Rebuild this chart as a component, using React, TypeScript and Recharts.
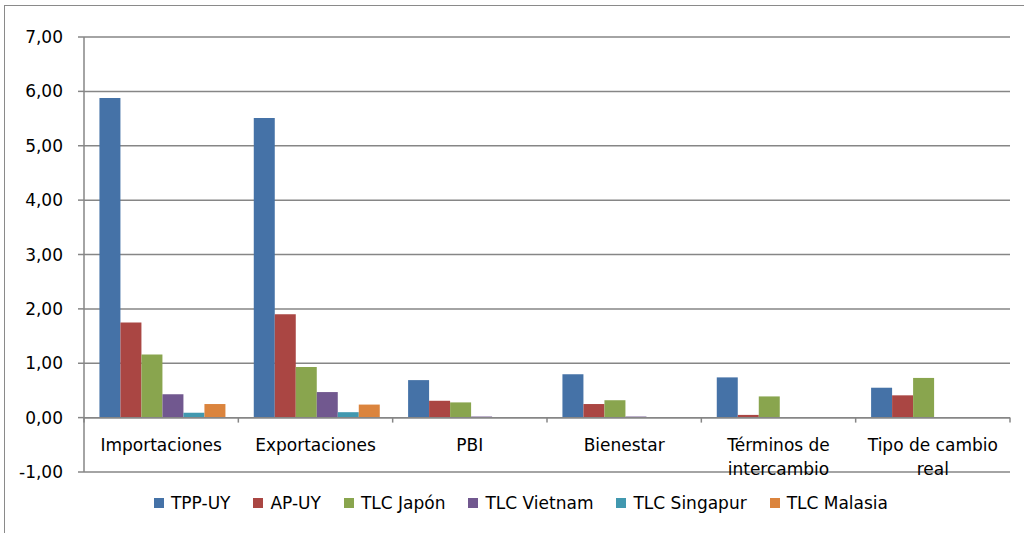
import React from "react";
import { BarChart, Bar, XAxis, YAxis, CartesianGrid, Legend, ReferenceLine } from "recharts";

const categories = ["Importaciones", "Exportaciones", "PBI", "Bienestar", "Términos de intercambio", "Tipo de cambio real"];
const labelLines: string[][] = [["Importaciones"], ["Exportaciones"], ["PBI"], ["Bienestar"], ["Términos de", "intercambio"], ["Tipo de cambio", "real"]];
const tppUy = [5.88, 5.51, 0.69, 0.80, 0.74, 0.55];
const apUy = [1.75, 1.90, 0.31, 0.25, 0.05, 0.41];
const tlcJapon = [1.16, 0.93, 0.28, 0.32, 0.39, 0.73];
const tlcVietnam = [0.43, 0.47, 0.02, 0.02, 0.01, 0.01];
const tlcSingapur = [0.09, 0.1, 0.005, 0.005, 0.005, 0.01];
const tlcMalasia = [0.25, 0.24, 0.01, 0.01, 0.01, 0.01];
const yTicks = [-1, 0, 1, 2, 3, 4, 5, 6, 7];

const series = [
  { key: "tpp", name: "TPP-UY", values: tppUy, color: "#4572A7" },
  { key: "ap", name: "AP-UY", values: apUy, color: "#AA4643" },
  { key: "jp", name: "TLC Japón", values: tlcJapon, color: "#89A54E" },
  { key: "vn", name: "TLC Vietnam", values: tlcVietnam, color: "#71588F" },
  { key: "sg", name: "TLC Singapur", values: tlcSingapur, color: "#4198AF" },
  { key: "my", name: "TLC Malasia", values: tlcMalasia, color: "#DB843D" },
];

const data = categories.map((c, i) => {
  const row: Record<string, any> = { cat: c, idx: i };
  series.forEach((s) => (row[s.key] = s.values[i]));
  return row;
});

const FONT = "DejaVu Sans, sans-serif";
const FS = 17;
const GRID = "#868686";
const ZERO_OFFSET = 54.4;

const CatTick = (props: any) => {
  const { x, y, payload, index, visibleTicksCount } = props;
  const half = payload && payload.offset ? payload.offset : 77.2;
  const lines = labelLines[payload.index ?? index] || [String(payload.value)];
  const y0 = y - ZERO_OFFSET;
  return (
    <g>
      <line x1={x - half} x2={x - half} y1={y0} y2={y0 + 5} stroke={GRID} strokeWidth={1.5} />
      {index === (visibleTicksCount ?? 6) - 1 && (
        <line x1={x + half} x2={x + half} y1={y0} y2={y0 + 5} stroke={GRID} strokeWidth={1.5} />
      )}
      {lines.map((l, i) => (
        <text key={i} x={x} y={y - 27 + i * 24} textAnchor="middle" dominantBaseline="central" fontFamily={FONT} fontSize={FS} fill="#000">
          {l}
        </text>
      ))}
    </g>
  );
};

const LegendContent = () => (
  <div style={{ display: "flex", justifyContent: "center", alignItems: "center", height: 24, fontFamily: FONT, fontSize: FS, color: "#000", gap: 23, paddingLeft: 32 }}>
    {series.map((s) => (
      <div key={s.key} style={{ display: "flex", alignItems: "center" }}>
        <div style={{ width: 10, height: 10, background: s.color, marginRight: 7 }} />
        <span>{s.name}</span>
      </div>
    ))}
  </div>
);

export default function App() {
  return (
    <div style={{ position: "absolute", left: 0, top: 0, width: 1024, height: 533, overflow: "hidden", background: "#fff" }}>
      <div style={{ position: "absolute", left: 4, top: 5, width: 1100, height: 600, borderLeft: "1.5px solid #8a8a8a", borderTop: "1.5px solid #8a8a8a" }} />
      <div style={{ position: "absolute", left: 0, top: 0 }}>
        <BarChart width={1024} height={533} data={data} margin={{ top: 37, right: 14, bottom: 18, left: 0 }} barGap={0} barCategoryGap="10%">
          <CartesianGrid horizontal vertical={false} stroke={GRID} strokeWidth={1.5} />
          <YAxis
            width={84}
            domain={[-1, 7]}
            ticks={yTicks}
            interval={0}
            tickFormatter={(v: number) => v.toFixed(2).replace(".", ",")}
            axisLine={{ stroke: GRID, strokeWidth: 1.5 }}
            tickLine={{ stroke: GRID, strokeWidth: 1.5 }}
            tickSize={6}
            tickMargin={15}
            tick={{ fontFamily: FONT, fontSize: FS, fill: "#000" }}
          />
          <XAxis dataKey="cat" height={19} axisLine={false} tickLine={false} tickSize={0} tickMargin={0} interval={0} tick={<CatTick />} />
          <ReferenceLine y={0} stroke={GRID} strokeWidth={1.5} />
          {series.map((s) => (
            <Bar key={s.key} dataKey={s.key} name={s.name} fill={s.color} isAnimationActive={false} />
          ))}
          <Legend verticalAlign="bottom" content={<LegendContent />} />
        </BarChart>
      </div>
    </div>
  );
}
